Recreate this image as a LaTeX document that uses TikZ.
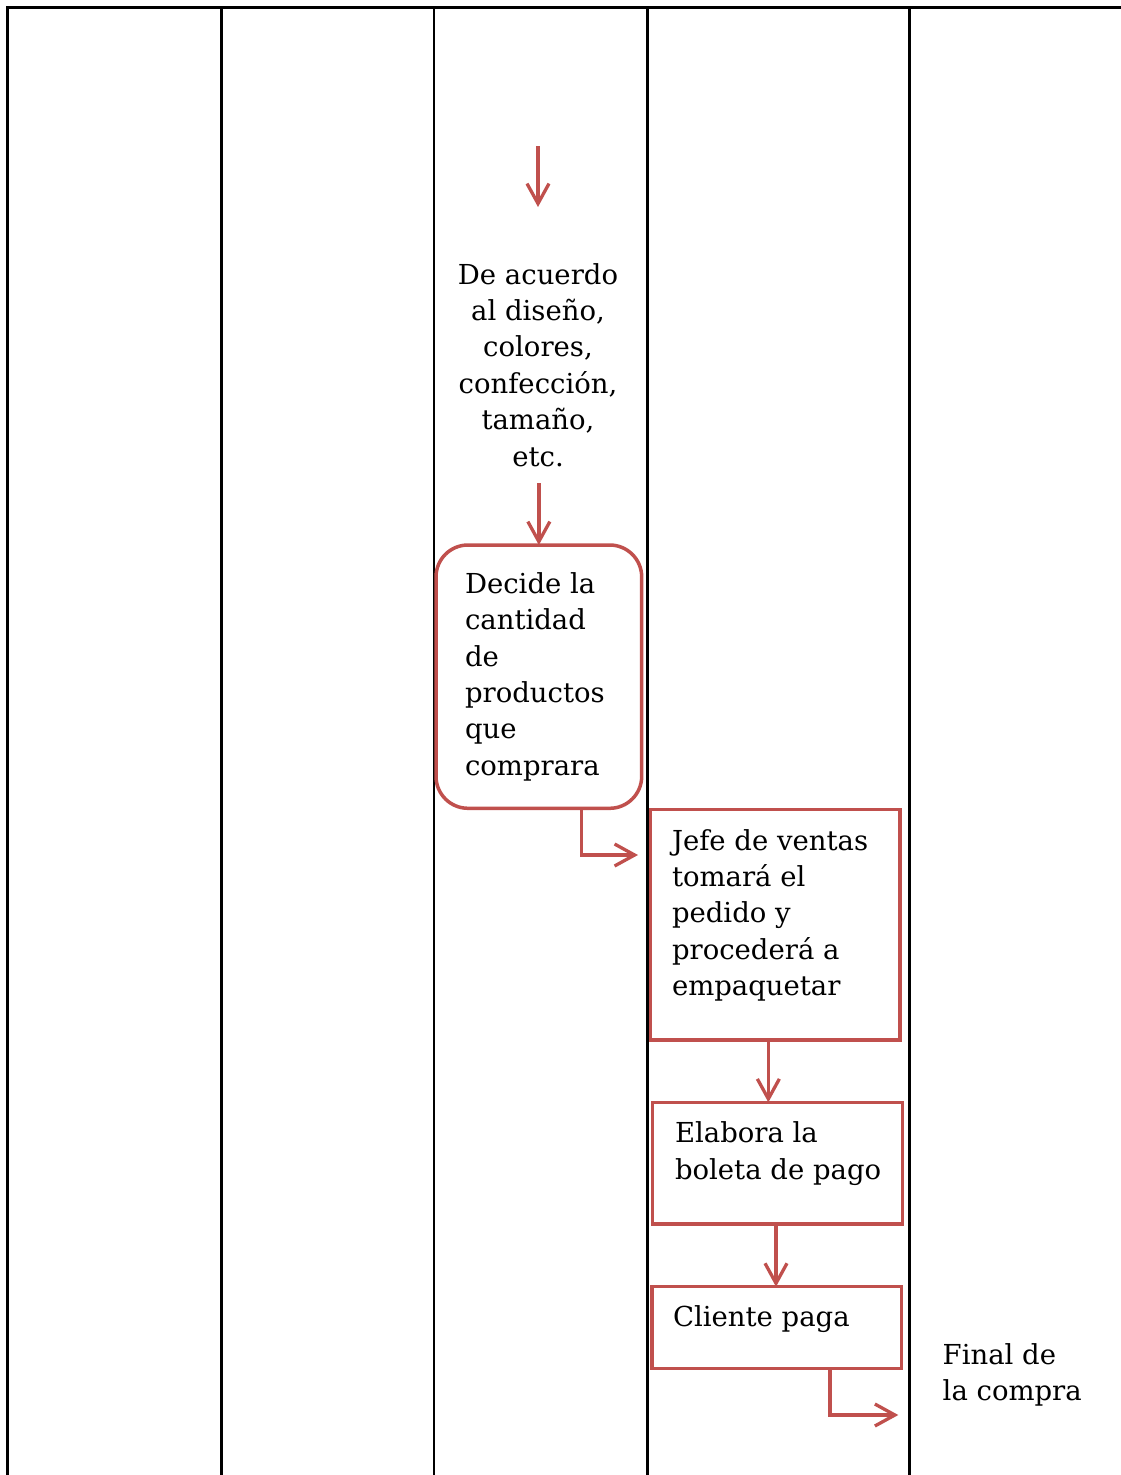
\documentclass[tikz,border=0pt]{standalone}
\usepackage{fontspec}
\setmainfont{DejaVu Serif}
\usetikzlibrary{arrows.meta}
\definecolor{boxred}{RGB}{192,80,77}
\begin{document}
\begin{tikzpicture}[x=1pt,y=-1pt,
  lane/.style={line width=2.7pt,black},
  redbox/.style={draw=boxred,line width=3.5pt,inner sep=0pt,outer sep=0pt,fill=none},
  txt/.style={font=\fontsize{27.5}{36.4}\selectfont,inner sep=0pt,outer sep=0pt,anchor=north west,align=left},
  arr/.style={draw=boxred,line width=3.3pt,-{Straight Barb[length=20pt,width=22pt]}}
]
\useasboundingbox (0,0) rectangle (1121,1475);
% lanes
\draw[lane] (6,7.8) -- (1121,7.8);
\foreach \x in {7.2,221.2,434,647.8,909.8}{\draw[lane] (\x,7.8) -- (\x,1476);}
% first free arrow
\coordinate (a1s) at (538,146);
\coordinate (a1t) at (538,207);
\draw[arr] (a1s) -- (a1t);
% text column
\node[txt,anchor=north,align=center] (desc) at (538,284-25.48) {\strut De acuerdo\\al diseño,\\colores,\\confección,\\tamaño,\\etc.};
% rounded box
\node[redbox,rounded corners=32pt,minimum width=205.7pt,minimum height=263.3pt] (b1) at (538.85,676.65) {};
\node[txt] (t1) at (465,593.3-25.48) {\strut Decide la\\cantidad\\de\\productos\\que\\comprara};
\coordinate (a2s) at (538.85,483);
\draw[arr] (a2s) -- (b1.north);
% box 2
\node[redbox,minimum width=249.3pt,minimum height=230.7pt] (b2) at (775.35,924.65) {};
\node[txt] (t2) at (672,850-25.48) {\strut Jefe de ventas\\tomará el\\pedido y\\procederá a\\empaquetar};
\coordinate (e1t) at (638,855);
\draw[arr] ([xshift=42.85pt]b1.south) |- (e1t);
% box 3
\node[redbox,minimum width=249.6pt,minimum height=121.7pt] (b3) at (777.5,1163.15) {};
\node[txt] (t3) at (675,1142.7-25.48) {\strut Elabora la\\boleta de pago};
\draw[arr] ([xshift=-7pt]b2.south) -- ([xshift=-7pt]b2.south |- b3.north);
% box 4
\node[redbox,minimum width=249.7pt,minimum height=81.6pt] (b4) at (776.85,1327.5) {};
\node[txt] (t4) at (673,1326.7-25.48) {\strut Cliente paga};
\draw[arr] ([xshift=-1.5pt]b3.south) -- ([xshift=-1.5pt]b3.south |- b4.north);
% final
\coordinate (e2t) at (898.3,1415);
\draw[arr] ([xshift=53.15pt]b4.south) |- (e2t);
\node[txt] (fin) at (942.7,1364-25.48) {\strut Final de\\la compra};
\end{tikzpicture}
\end{document}
